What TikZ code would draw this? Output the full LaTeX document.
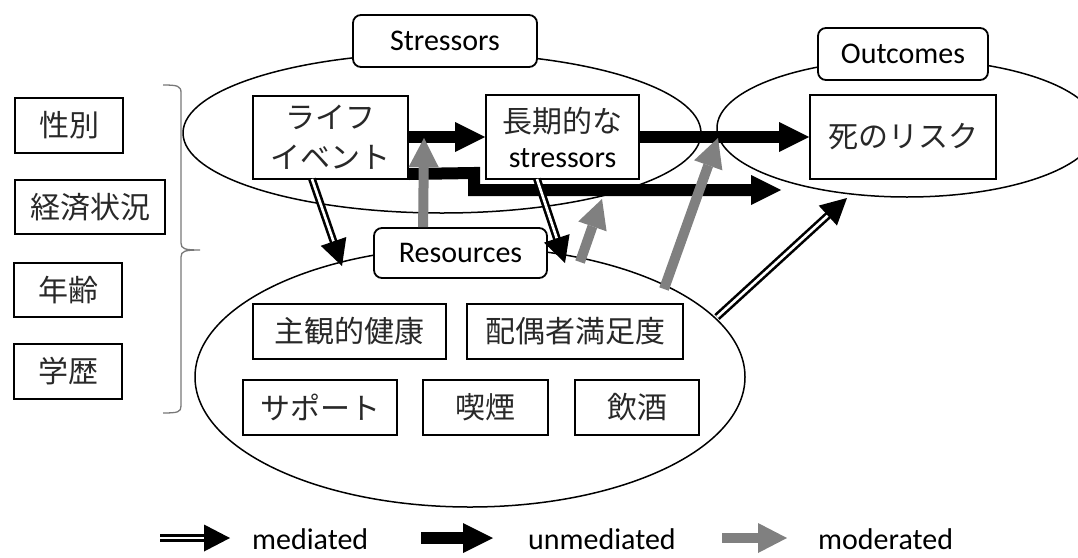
\documentclass[tikz,border=0pt]{standalone}
\usepackage{fontspec}
\setmainfont{Carlito}
\newfontfamily\jp{Noto Sans CJK JP}
\usetikzlibrary{arrows.meta,shapes.geometric,calc}
\definecolor{modgray}{RGB}{128,128,128}
\definecolor{bracegray}{RGB}{120,120,120}
\definecolor{jptext}{RGB}{40,40,40}

% double-lined (mediated) arrow: shaft first, solid head on top
\newcommand\medarrow[2]{%
  \draw[medline] (#1) -- ($(#2)!20pt!(#1)$);
  \draw[medhead] ($(#2)!24pt!(#1)$) -- (#2);
}

\begin{document}
\begin{tikzpicture}[x=1pt,y=-1pt,
  box/.style={draw, line width=2pt, fill=white, inner sep=0pt, text=jptext,
    font=\jp\fontsize{30}{36}\selectfont},
  tag/.style={draw, line width=1.8pt, fill=white, rounded corners=8pt, inner sep=0pt,
    font=\fontsize{30}{36}\selectfont},
  group/.style={draw, ellipse, line width=1.5pt, inner sep=0pt},
  unmed/.style={line width=12pt, -{Triangle[length=30pt,width=30pt,line width=0pt]}},
  moder/.style={draw=modgray, line width=10pt, -{Triangle[length=29pt,width=30pt,line width=0pt]}},
  medline/.style={double=white, double distance=2.6pt, line width=2.6pt},
  medhead/.style={line width=1pt, -{Triangle[length=26pt,width=27pt,line width=0pt]}},
  legtext/.style={anchor=base west, inner sep=0pt, font=\fontsize{30}{36}\selectfont},
]
\useasboundingbox (0,0) rectangle (1078,557);

% groups
\node[group, minimum width=518pt, minimum height=160pt] (stress) at (442,133) {};
\node[group, minimum width=380pt, minimum height=138pt] (outc) at (907,128) {};
\node[group, minimum width=550pt, minimum height=260pt] (resc) at (470,377) {};

% covariates and brace
\node[box, minimum width=108pt, minimum height=55pt] (sex) at (69,125.5) {性別};
\node[box, minimum width=150pt, minimum height=54pt] (econ) at (90,207) {経済状況};
\node[box, minimum width=108pt, minimum height=54pt] (age) at (68,290) {年齢};
\node[box, minimum width=108pt, minimum height=55pt] (edu) at (68,371.5) {学歴};
\draw[bracegray, line width=1.3pt]
  (163,85) .. controls (178,85) and (181,86) .. (181,93) -- (181,243)
  .. controls (181,249) and (185,250) .. (200,250)
  .. controls (185,250) and (181,251) .. (181,257) -- (181,406)
  .. controls (181,412) and (178,413) .. (163,413);

% stressors
\node[box, minimum width=155pt, minimum height=83pt, align=center,
  font=\jp\fontsize{30}{40}\selectfont] (life) at (330.5,137.5) {ライフ\\イベント};
\node[box, minimum width=153pt, minimum height=84pt, align=center, text=black,
  font=\fontsize{30}{35}\selectfont] (chronic) at (562.5,137) {{\jp\color{jptext}長期的な}\\stressors};
\node[tag, minimum width=184pt, minimum height=52pt] (stag) at (445,41) {Stressors};

% outcomes
\node[box, minimum width=186pt, minimum height=84pt] (risk) at (903,137) {死のリスク};
\node[tag, minimum width=170pt, minimum height=52pt] (otag) at (903,54) {Outcomes};

% resources
\node[tag, minimum width=173pt, minimum height=50pt] (rtag) at (460.5,253) {Resources};
\node[box, minimum width=193pt, minimum height=55pt] (health) at (349.5,331.5) {主観的健康};
\node[box, minimum width=216pt, minimum height=55pt] (spouse) at (575,331.5) {配偶者満足度};
\node[box, minimum width=154pt, minimum height=55pt] (support) at (320,407.5) {サポート};
\node[box, minimum width=125pt, minimum height=55pt] (smoke) at (485.5,407.5) {喫煙};
\node[box, minimum width=124pt, minimum height=55pt] (drink) at (637,407.5) {飲酒};

% connector end points
\coordinate (u3tip) at (781,190);
\coordinate (m1tip) at (424,138);
\coordinate (m2tail) at (580,262);
\coordinate (m2tip) at (602,199);
\coordinate (m3tail) at (664,289);
\coordinate (m3tip) at (718,138);
\coordinate (d1tail) at (312,179);
\coordinate (d1tip) at (342,266);
\coordinate (d2tail) at (537,179);
\coordinate (d2tip) at (565,263);
\coordinate (d3tail) at (717,317);
\coordinate (d3tip) at (847,198);

% unmediated paths
\draw[unmed] (life.east |- chronic.west) -- (chronic.west);
\draw[unmed] (chronic.east) -- (risk.west);
\draw[unmed, line join=miter] ($(life.south east)+(0,-6)$) -- (474,173) -- (474,190) -- (u3tip);

% moderated paths
\draw[moder] ($(rtag.north west)+(50,0)$) -- (m1tip);
\draw[moder] (m2tail) -- (m2tip);
\draw[moder] (m3tail) -- (m3tip);

% mediated paths
\medarrow{d1tail}{d1tip}
\medarrow{d2tail}{d2tip}
\medarrow{d3tail}{d3tip}

% legend
\coordinate (lg1a) at (160,538); \coordinate (lg1b) at (230,538);
\coordinate (lg2a) at (421,538); \coordinate (lg2b) at (493,538);
\coordinate (lg3a) at (722,538); \coordinate (lg3b) at (787,538);
\medarrow{lg1a}{lg1b}
\draw[unmed] (lg2a) -- (lg2b);
\draw[moder] (lg3a) -- (lg3b);
\node[legtext] (lmed) at (252,549) {mediated};
\node[legtext] (lunmed) at (528,549) {unmediated};
\node[legtext] (lmod) at (818,549) {moderated};
\end{tikzpicture}
\end{document}
